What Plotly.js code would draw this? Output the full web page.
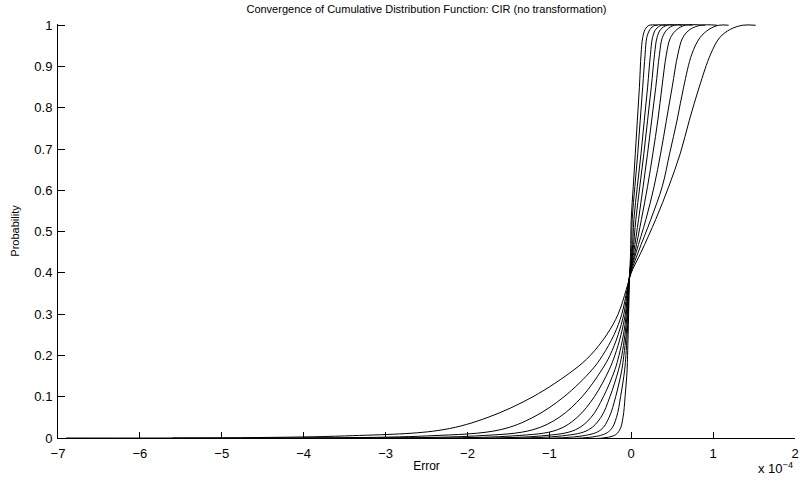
<!DOCTYPE html>
<html>
<head>
<meta charset="utf-8">
<script src="https://cdn.plot.ly/plotly-3.0.1.min.js"></script>
<style>html,body{margin:0;padding:0;background:#fff;}#chart{width:800px;height:481px;}</style>
</head>
<body>
<div id="chart"></div>
<script>
// Probability levels shared by all curves (last two: reaching 1 and flat continuation)
var probLevels = [0, 0.005, 0.02, 0.05, 0.1, 0.165, 0.2, 0.25, 0.3, 0.36, 0.4, 0.45, 0.53, 0.61, 0.69, 0.77, 0.85, 0.93, 0.97, 0.99, 1, 1];

// Error values (units of 1e-4) for each curve, widest to narrowest
var err1 = [-6.9, -3.5, -2.3, -1.75, -1.2, -0.70, -0.50, -0.30, -0.16, -0.06, 0.0, 0.12, 0.30, 0.46, 0.60, 0.71, 0.83, 0.97, 1.08, 1.21, 1.36, 1.52];
var err2 = [-5.6, -2.5, -1.6, -1.2, -0.82, -0.48, -0.35, -0.21, -0.115, -0.05, -0.005, 0.085, 0.24, 0.38, 0.47, 0.56, 0.64, 0.74, 0.84, 0.95, 1.07, 1.19];
var err3 = [-4.6, -1.9, -1.2, -0.88, -0.6, -0.36, -0.26, -0.16, -0.09, -0.045, -0.01, 0.06, 0.18, 0.28, 0.36, 0.43, 0.50, 0.57, 0.63, 0.72, 0.85, 1.05];
var err4 = [-4.0, -1.45, -0.9, -0.66, -0.45, -0.27, -0.20, -0.125, -0.072, -0.04, -0.013, 0.045, 0.125, 0.20, 0.265, 0.325, 0.375, 0.43, 0.48, 0.56, 0.66, 0.90];
var err5 = [-3.5, -1.1, -0.68, -0.49, -0.34, -0.20, -0.15, -0.095, -0.06, -0.036, -0.015, 0.03, 0.09, 0.146, 0.20, 0.25, 0.30, 0.345, 0.38, 0.44, 0.53, 0.75];
var err6 = [-3.0, -0.85, -0.52, -0.37, -0.26, -0.155, -0.115, -0.077, -0.05, -0.033, -0.017, 0.02, 0.057, 0.105, 0.155, 0.20, 0.245, 0.285, 0.315, 0.36, 0.44, 0.62];
var err7 = [-2.5, -0.6, -0.37, -0.27, -0.19, -0.115, -0.09, -0.062, -0.042, -0.03, -0.018, 0.012, 0.033, 0.075, 0.12, 0.16, 0.20, 0.235, 0.26, 0.30, 0.37, 0.52];
var err8 = [-2.0, -0.4, -0.25, -0.18, -0.13, -0.08, -0.065, -0.05, -0.035, -0.028, -0.018, 0.004, 0.012, 0.045, 0.08, 0.11, 0.14, 0.17, 0.19, 0.23, 0.29, 0.42];
var err9 = [-1.5, -0.22, -0.14, -0.1, -0.075, -0.05, -0.045, -0.038, -0.032, -0.026, -0.018, -0.008, 0.0, 0.025, 0.05, 0.075, 0.10, 0.12, 0.14, 0.17, 0.22, 0.32];

var xTicks = [-7, -6, -5, -4, -3, -2, -1, 0, 1, 2];
var yTicks = [0, 0.1, 0.2, 0.3, 0.4, 0.5, 0.6, 0.7, 0.8, 0.9, 1];
var yTickText = ['0', '0.1', '0.2', '0.3', '0.4', '0.5', '0.6', '0.7', '0.8', '0.9', '1'];

var curves = [err1, err2, err3, err4, err5, err6, err7, err8, err9];
var traces = curves.map(function (xs) {
  return {
    x: xs, y: probLevels, type: 'scatter', mode: 'lines',
    line: {color: '#000', width: 1, shape: 'spline', smoothing: 1},
    hoverinfo: 'skip', showlegend: false
  };
});

var fontFam = '"Liberation Sans", Arial, Helvetica, sans-serif';
var layout = {
  width: 800, height: 481,
  margin: {l: 58, r: 5, t: 24, b: 43},
  paper_bgcolor: '#fff', plot_bgcolor: '#fff',
  font: {family: fontFam, color: '#000', size: 12},
  title: {text: 'Convergence of Cumulative Distribution Function: CIR (no transformation)',
          font: {family: fontFam, size: 11, color: '#000'},
          xref: 'paper', x: 0.5, xanchor: 'center', yref: 'container', y: 0.981, yanchor: 'middle'},
  xaxis: {
    range: [-7, 2], tickmode: 'array', tickvals: xTicks,
    showgrid: false, zeroline: false, showline: true, linecolor: '#000', linewidth: 1,
    ticks: 'inside', ticklen: 6, tickcolor: '#000', tickwidth: 1,
    ticklabelstandoff: 3,
    tickfont: {family: fontFam, size: 13, color: '#000'},
    title: {text: 'Error', font: {family: fontFam, size: 12, color: '#000'}, standoff: 2},
    automargin: false
  },
  yaxis: {
    range: [0, 1.003], tickmode: 'array', tickvals: yTicks, ticktext: yTickText,
    showgrid: false, zeroline: false, showline: true, linecolor: '#000', linewidth: 1,
    ticks: 'inside', ticklen: 7, tickcolor: '#000', tickwidth: 1,
    ticklabelstandoff: 2,
    tickfont: {family: fontFam, size: 13, color: '#000'},
    title: {text: 'Probability', font: {family: fontFam, size: 11, color: '#000'}, standoff: 12},
    automargin: false
  },
  annotations: [{
    xref: 'paper', yref: 'paper', x: 1, y: -0.072, xanchor: 'right', yanchor: 'middle',
    text: 'x 10<sup>\u22124</sup>', showarrow: false,
    font: {family: fontFam, size: 13, color: '#000'}
  }]
};

Plotly.newPlot('chart', traces, layout, {displayModeBar: false, staticPlot: true});
</script>
</body>
</html>
